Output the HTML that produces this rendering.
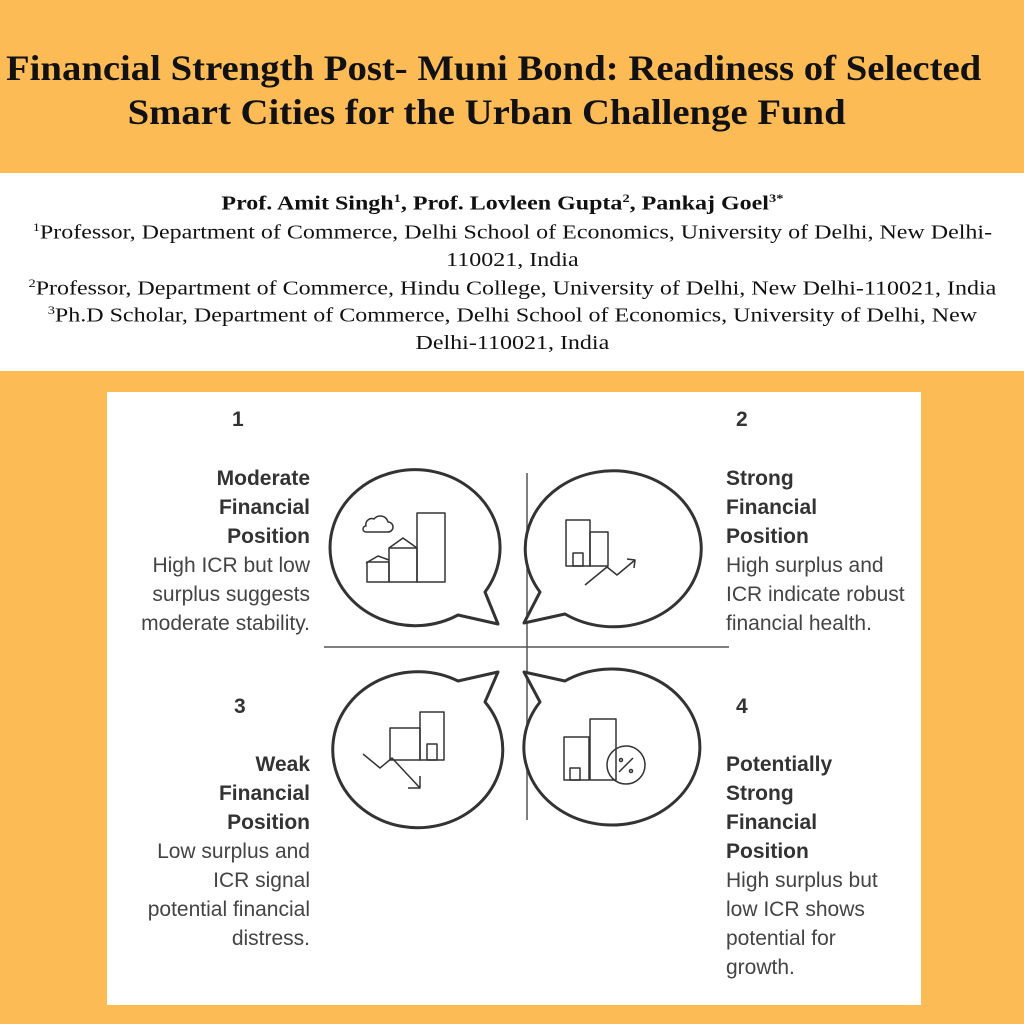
<!DOCTYPE html>
<html><head><meta charset="utf-8"><style>
body{margin:0;width:1024px;height:1024px;background:#FDBB56;position:relative;overflow:hidden;font-family:"Liberation Serif",serif}
.t{position:absolute;left:0;width:1000px;text-align:center;font-weight:bold;font-size:36px;color:#111;line-height:44px;transform:scaleX(1.076);transform-origin:492px 0}
.w{position:absolute;left:0;top:173px;width:1024px;height:198px;background:#fff}
.a{position:absolute;width:1024px;left:0;text-align:center;font-size:20px;color:#111;line-height:27px;transform:scaleX(1.2);transform-origin:510px 0}
.p{position:absolute;left:107px;top:392px;width:814px;height:613px;background:#fff}
.s{position:absolute;font-family:"Liberation Sans",sans-serif;font-size:21px;color:#444;line-height:29px}
.b{font-weight:bold;color:#333}
</style></head><body>
<div class="t" style="top:46px;left:-7px">Financial Strength Post- Muni Bond: Readiness of Selected</div>
<div class="t" style="top:90px;left:-14px">Smart Cities for the Urban Challenge Fund</div>
<div class="w"></div>
<div class="a" style="top:185px;font-weight:bold;font-size:20px;left:-10px">Prof. Amit Singh<sup style="font-size:12px">1</sup>, Prof. Lovleen Gupta<sup style="font-size:12px">2</sup>, Pankaj Goel<sup style="font-size:12px">3*</sup></div>
<div class="a" style="top:214px"><sup style="font-size:12px">1</sup>Professor, Department of Commerce, Delhi School of Economics, University of Delhi, New Delhi-<br>110021, India</div>
<div class="a" style="top:270px"><sup style="font-size:12px">2</sup>Professor, Department of Commerce, Hindu College, University of Delhi, New Delhi-110021, India</div>
<div class="a" style="top:297px"><sup style="font-size:12px">3</sup>Ph.D Scholar, Department of Commerce, Delhi School of Economics, University of Delhi, New<br>Delhi-110021, India</div>
<div class="p"></div>
<svg style="position:absolute;left:0;top:0" width="1024" height="1024" fill="none" stroke="#333" stroke-width="3" stroke-linejoin="round">
<line x1="527" y1="473" x2="527" y2="820" stroke-width="1.5" stroke="#555"/>
<line x1="324" y1="647" x2="729" y2="647" stroke-width="1.5" stroke="#555"/>
<path d="M498,624 L485,592 A85,78 0 1 0 458,615 Z" fill="#fff"/>
<path d="M524,623 L540,592 A88,78 0 1 1 565,614 Z" fill="#fff"/>
<path d="M498,672 L485,702 A85,78 0 1 1 458,681 Z" fill="#fff"/>
<path d="M524,672 L540,702 A88,78 0 1 0 565,681 Z" fill="#fff"/>
<g stroke-width="1.5">
<rect x="367" y="562" width="22" height="20"/><rect x="389" y="548" width="28" height="34"/><rect x="417" y="513" width="28" height="69"/>
<path d="M389,548 L403,538 L417,548"/><path d="M366,563 L378,556 L389,560"/>
<path d="M366,526 a6,6 0 0 1 8,-7 a8,8 0 0 1 14,3 a5,5 0 0 1 0,10 h-22 a3,3 0 0 1 0,-6z"/>
<rect x="566" y="520" width="24" height="46"/><rect x="590" y="532" width="18" height="34"/><rect x="573" y="553" width="10" height="13"/>
<path d="M585,585 L607,567 L617,575 L635,560 M627,559 L635,560 L634,568"/>
<rect x="420" y="712" width="24" height="48"/><rect x="390" y="728" width="30" height="32"/><rect x="427" y="744" width="10" height="16"/>
<path d="M363,754 L380,768 L392,758 L420,788 M408,788 L420,788 L420,776"/>
<rect x="564" y="737" width="25" height="43"/><rect x="590" y="719" width="26" height="61"/><rect x="570" y="768" width="10" height="12"/>
<circle cx="626" cy="765" r="19"/><path d="M619,772 L633,758"/><circle cx="621" cy="760" r="1.5"/><circle cx="631" cy="771" r="1.5"/>
</g></svg>
<div class="s b" style="left:232px;top:405px">1</div>
<div class="s b" style="left:736px;top:405px">2</div>
<div class="s b" style="left:234px;top:692px">3</div>
<div class="s b" style="left:736px;top:692px">4</div>
<div class="s" style="left:60px;width:250px;top:464px;text-align:right"><span class="b">Moderate<br>Financial<br>Position</span><br>High ICR but low<br>surplus suggests<br>moderate stability.</div>
<div class="s" style="left:726px;top:464px"><span class="b">Strong<br>Financial<br>Position</span><br>High surplus and<br>ICR indicate robust<br>financial health.</div>
<div class="s" style="left:60px;width:250px;top:750px;text-align:right"><span class="b">Weak<br>Financial<br>Position</span><br>Low surplus and<br>ICR signal<br>potential financial<br>distress.</div>
<div class="s" style="left:726px;top:750px"><span class="b">Potentially<br>Strong<br>Financial<br>Position</span><br>High surplus but<br>low ICR shows<br>potential for<br>growth.</div>
</body></html>
